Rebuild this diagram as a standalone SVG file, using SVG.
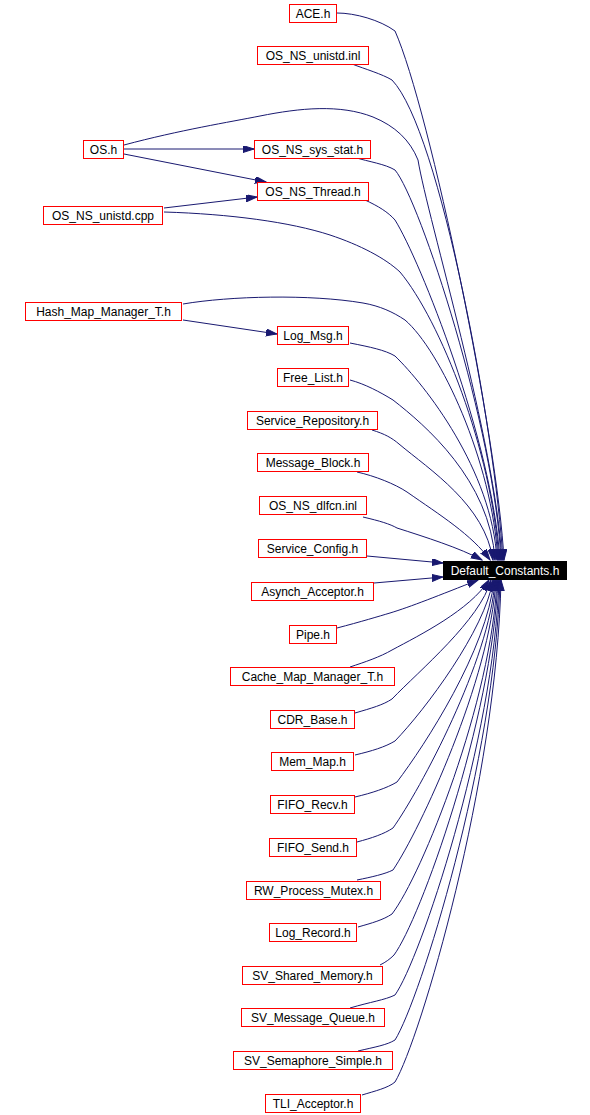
<svg xmlns="http://www.w3.org/2000/svg" width="590" height="1115" viewBox="0 0 590 1115">
<style>
.n rect{fill:#fff;stroke:#ff0000;stroke-width:1}
.n text{font-family:"Liberation Sans",Arial,Helvetica,sans-serif;font-size:12px;fill:#000;text-anchor:middle}
#n_default rect{fill:#000;stroke:#000}
#n_default text{fill:#fff}
.e path{fill:none;stroke:#191970;stroke-width:1}
</style>
<defs>
<marker id="ah" markerUnits="userSpaceOnUse" markerWidth="12" markerHeight="8" refX="11" refY="3.5" orient="auto">
<path d="M0,0 L11,3.5 L0,7 z" fill="#191970" stroke="#191970" stroke-width="1"/>
</marker>
</defs>
<rect width="590" height="1115" fill="#fff"/>
<g class="e" marker-end="url(#ah)">
<path marker-end="url(#ah)" d="M337,13 C355,13 380,20 395,31 C430,110 498,440 504,560"/>
<path marker-end="url(#ah)" d="M352,64 C365,69 382,74 392,80 C440,130 495,430 503,560"/>
<path marker-end="url(#ah)" d="M124,145 C180,130 230,122 260,116 C300,108 340,104 373,117 C395,126 410,140 418,160 C428,220 495,440 502,560"/>
<path marker-end="url(#ah)" d="M124,149 L254,149"/>
<path marker-end="url(#ah)" d="M124,154 L266,182"/>
<path marker-end="url(#ah)" d="M164,208 L257,197"/>
<path marker-end="url(#ah)" d="M164,212 C230,214 290,222 330,235 C360,245 385,258 400,272 C440,320 492,450 499,560"/>
<path marker-end="url(#ah)" d="M353,157 C370,162 385,164 395,170 C420,200 495,430 501,560"/>
<path marker-end="url(#ah)" d="M365,200 C378,206 388,212 395,220 C420,260 492,440 500,560"/>
<path marker-end="url(#ah)" d="M183,320 L277,334"/>
<path marker-end="url(#ah)" d="M183,304 C230,296 310,294 363,303 C380,306 393,312 405,320 C440,350 492,460 498,560"/>
<path marker-end="url(#ah)" d="M350,343 C370,347 385,350 395,356 C425,385 492,470 497,560"/>
<path marker-end="url(#ah)" d="M350,380 C365,384 380,392 393,400 C425,425 490,480 495,560"/>
<path marker-end="url(#ah)" d="M372,430 C385,434 392,438 399,444 C430,470 485,505 493,560"/>
<path marker-end="url(#ah)" d="M357,472 C375,476 395,484 407,492 C440,515 472,535 490,560"/>
<path marker-end="url(#ah)" d="M363,517 C380,521 390,524 397,528 C425,537 460,548 482,560"/>
<path marker-end="url(#ah)" d="M367,556 L443,563"/>
<path marker-end="url(#ah)" d="M374,583 L443,577"/>
<path marker-end="url(#ah)" d="M337,628 C360,622 380,616 390,613 C410,607 440,595 478,580"/>
<path marker-end="url(#ah)" d="M350,667 C365,662 380,657 392,650 C420,635 470,610 489,580"/>
<path marker-end="url(#ah)" d="M355,713 C372,708 383,705 392,699 C420,670 480,620 491,580"/>
<path marker-end="url(#ah)" d="M355,755 C372,751 385,747 395,741 C425,710 485,630 493,580"/>
<path marker-end="url(#ah)" d="M355,797 C372,793 387,788 397,782 C425,745 487,650 494,580"/>
<path marker-end="url(#ah)" d="M357,842 C372,838 384,834 393,828 C420,790 490,660 495,580"/>
<path marker-end="url(#ah)" d="M357,880 C372,877 385,874 393,870 C420,830 490,680 496,580"/>
<path marker-end="url(#ah)" d="M358,927 C372,923 383,920 392,914 C422,875 492,700 497,580"/>
<path marker-end="url(#ah)" d="M380,965 C386,962 390,959 394,955 C420,920 492,720 498,580"/>
<path marker-end="url(#ah)" d="M350,1008 C370,1002 385,1000 395,995 C420,960 494,740 499,580"/>
<path marker-end="url(#ah)" d="M358,1051 C375,1047 387,1045 395,1040 C420,1000 495,760 500,580"/>
<path marker-end="url(#ah)" d="M362,1095 C375,1091 388,1088 395,1082 C420,1040 497,780 501,580"/>
</g>
<g id="n_ace" class="n"><rect x="289.5" y="4.5" width="47" height="18"/><text x="313" y="18">ACE.h</text></g>
<g id="n_os_ns_unistd_inl" class="n"><rect x="257.5" y="46.5" width="111" height="18"/><text x="313" y="60">OS_NS_unistd.inl</text></g>
<g id="n_os" class="n"><rect x="83.5" y="140.5" width="40" height="18"/><text x="103.5" y="154">OS.h</text></g>
<g id="n_os_ns_sys_stat" class="n"><rect x="254.5" y="140.5" width="116" height="18"/><text x="312.5" y="154">OS_NS_sys_stat.h</text></g>
<g id="n_os_ns_thread" class="n"><rect x="257.5" y="182.5" width="111" height="18"/><text x="313" y="196">OS_NS_Thread.h</text></g>
<g id="n_os_ns_unistd_cpp" class="n"><rect x="43.5" y="206.5" width="119" height="18"/><text x="103" y="220">OS_NS_unistd.cpp</text></g>
<g id="n_hash_map_manager_t" class="n"><rect x="25.5" y="302.5" width="156" height="18"/><text x="103.5" y="316">Hash_Map_Manager_T.h</text></g>
<g id="n_log_msg" class="n"><rect x="277.5" y="326.5" width="71" height="18"/><text x="313" y="340">Log_Msg.h</text></g>
<g id="n_free_list" class="n"><rect x="277.5" y="368.5" width="71" height="18"/><text x="313" y="382">Free_List.h</text></g>
<g id="n_service_repository" class="n"><rect x="247.5" y="411.5" width="130" height="18"/><text x="312.5" y="425">Service_Repository.h</text></g>
<g id="n_message_block" class="n"><rect x="257.5" y="453.5" width="111" height="18"/><text x="313" y="467">Message_Block.h</text></g>
<g id="n_os_ns_dlfcn" class="n"><rect x="259.5" y="496.5" width="107" height="18"/><text x="313" y="510">OS_NS_dlfcn.inl</text></g>
<g id="n_service_config" class="n"><rect x="258.5" y="539.5" width="108" height="18"/><text x="312.5" y="553">Service_Config.h</text></g>
<g id="n_default" class="n"><rect x="443.5" y="561.5" width="123" height="18"/><text x="505" y="575">Default_Constants.h</text></g>
<g id="n_asynch_acceptor" class="n"><rect x="251.5" y="582.5" width="122" height="18"/><text x="312.5" y="596">Asynch_Acceptor.h</text></g>
<g id="n_pipe" class="n"><rect x="289.5" y="625.5" width="47" height="18"/><text x="313" y="639">Pipe.h</text></g>
<g id="n_cache_map_manager_t" class="n"><rect x="230.5" y="667.5" width="164" height="18"/><text x="312.5" y="681">Cache_Map_Manager_T.h</text></g>
<g id="n_cdr_base" class="n"><rect x="270.5" y="710.5" width="84" height="18"/><text x="312.5" y="724">CDR_Base.h</text></g>
<g id="n_mem_map" class="n"><rect x="271.5" y="752.5" width="82" height="18"/><text x="312.5" y="766">Mem_Map.h</text></g>
<g id="n_fifo_recv" class="n"><rect x="270.5" y="795.5" width="84" height="18"/><text x="312.5" y="809">FIFO_Recv.h</text></g>
<g id="n_fifo_send" class="n"><rect x="269.5" y="838.5" width="87" height="18"/><text x="313" y="852">FIFO_Send.h</text></g>
<g id="n_rw_process_mutex" class="n"><rect x="246.5" y="881.5" width="134" height="18"/><text x="313.5" y="895">RW_Process_Mutex.h</text></g>
<g id="n_log_record" class="n"><rect x="269.5" y="923.5" width="87" height="18"/><text x="313" y="937">Log_Record.h</text></g>
<g id="n_sv_shared_memory" class="n"><rect x="242.5" y="966.5" width="140" height="18"/><text x="312.5" y="980">SV_Shared_Memory.h</text></g>
<g id="n_sv_message_queue" class="n"><rect x="241.5" y="1008.5" width="143" height="18"/><text x="313" y="1022">SV_Message_Queue.h</text></g>
<g id="n_sv_semaphore_simple" class="n"><rect x="233.5" y="1051.5" width="159" height="18"/><text x="313" y="1065">SV_Semaphore_Simple.h</text></g>
<g id="n_tli_acceptor" class="n"><rect x="265.5" y="1094.5" width="95" height="18"/><text x="313" y="1108">TLI_Acceptor.h</text></g>
</svg>
